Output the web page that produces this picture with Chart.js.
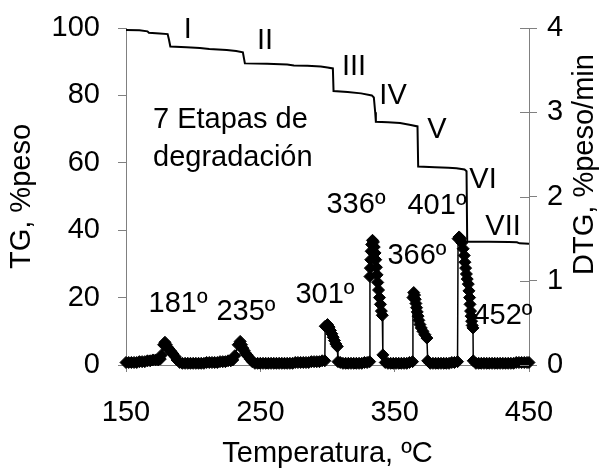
<!DOCTYPE html>
<html>
<head>
<meta charset="utf-8">
<script src="https://cdn.jsdelivr.net/npm/chart.js@4/dist/chart.umd.min.js"></script>
<style>
  body { margin: 0; background: #fff; }
</style>
</head>
<body>
<canvas id="grafico" width="606" height="472"></canvas>
<script>
// Curva TG (%peso) frente a temperatura
const tgTemp = [150, 160, 166, 167, 175, 181, 182, 183, 195, 205, 212, 225, 232, 237, 238.5,
  255, 270, 275, 285, 295, 300, 304, 304.5, 315, 325, 333, 334.5, 335.5, 336, 345, 354, 362,
  367, 367.5, 380, 390, 396, 402, 403.5, 404, 420, 435, 441, 443, 450];
const tgValor = [99.4, 99.3, 99.0, 98.6, 98.4, 98.2, 96.5, 94.5, 94.3, 94.1, 93.8, 93.5, 93.2, 92.8, 89.5,
  89.4, 89.2, 88.9, 88.8, 88.6, 88.3, 88.0, 81.3, 81.0, 80.6, 80.0, 79.4, 75.0, 72.2, 72.0, 71.8, 71.2,
  70.8, 58.9, 58.7, 58.5, 58.4, 58.0, 57.5, 36.6, 36.6, 36.5, 36.4, 36.1, 36.0];

// Curva DTG (%peso/min)
const dtgTemp = [
  150, 152, 154, 156, 158, 160, 162, 164, 166, 168, 170, 172, 174, 175.5,
  176.5, 178, 179, 180, 181, 182, 183, 184, 185, 186.5, 188, 190,
  192, 194, 196, 198, 200, 202, 204, 206, 208, 210, 212, 214, 216, 218, 220, 222, 224, 226, 228, 229.5,
  231, 233.5, 235, 236, 237, 238, 239, 240, 241, 242.5, 244, 246,
  248, 250, 252, 254, 256, 258, 260, 262, 264, 266, 268, 270, 272, 274, 276, 278, 280, 282, 284, 286, 288, 290, 292, 294, 296, 298,
  298.3, 300, 301.2, 302.2, 303.2, 304.2, 305.2, 306.2, 307.3, 307.8,
  309.5, 311.5, 313.5, 315.5, 317.5, 319.5, 321.5, 323.5, 325.5, 327.5, 329.5, 331.4,
  331.6, 331.9, 332.2, 332.5, 332.9, 333.5, 334.2, 334.8, 335.4, 335.9, 336.4, 336.9, 337.4, 338, 338.7, 339.4, 340.1, 340.8, 341.2,
  343, 345, 347, 349, 351, 353, 355, 357, 359, 361, 363.3,
  363.6, 364.2, 364.8, 365.3, 365.8, 366.3, 366.8, 367.4, 368, 368.8, 369.8, 371, 372.5, 374, 374.6,
  376.5, 378.5, 380.5, 382.5, 384.5, 386.5, 388.5, 390.5, 392.5, 394.5, 396.8,
  397.2, 398, 399, 400, 401, 401.8, 402.3, 402.8, 403.4, 404, 404.8, 405.3, 405.8, 406.1, 406.5, 406.9, 407.3, 407.7, 408.3, 408.5,
  410.5, 412.5, 414.5, 416.5, 418.5, 420.5, 422.5, 424.5, 426.5, 428.5, 430.5, 432.5, 434.5, 436.5, 438.5, 440.5, 442.5, 444.5, 446.5, 448.5, 450];
const dtgValor = [
  0.03, 0.03, 0.03, 0.03, 0.03, 0.04, 0.04, 0.04, 0.05, 0.05, 0.06, 0.06, 0.06, 0.07,
  0.12, 0.24, 0.27, 0.24, 0.21, 0.19, 0.17, 0.15, 0.13, 0.10, 0.06, 0.03,
  0.02, 0.02, 0.02, 0.02, 0.02, 0.02, 0.02, 0.02, 0.02, 0.03, 0.03, 0.03, 0.03, 0.03, 0.04, 0.04, 0.04, 0.05, 0.05, 0.06,
  0.11, 0.24, 0.28, 0.24, 0.20, 0.17, 0.14, 0.12, 0.10, 0.07, 0.04, 0.02,
  0.02, 0.02, 0.02, 0.02, 0.02, 0.02, 0.02, 0.02, 0.02, 0.02, 0.02, 0.02, 0.02, 0.02, 0.03, 0.03, 0.03, 0.03, 0.03, 0.03, 0.04, 0.04, 0.04, 0.04, 0.05, 0.05,
  0.46, 0.48, 0.45, 0.41, 0.37, 0.33, 0.29, 0.25, 0.22, 0.04,
  0.03, 0.02, 0.02, 0.02, 0.02, 0.02, 0.02, 0.02, 0.02, 0.03, 0.03, 0.04,
  1.05, 1.15, 1.25, 1.35, 1.43, 1.48, 1.46, 1.40, 1.33, 1.25, 1.16, 1.07, 0.98, 0.89, 0.80, 0.72, 0.64, 0.59, 0.12,
  0.03, 0.02, 0.02, 0.02, 0.02, 0.02, 0.02, 0.02, 0.02, 0.03, 0.04,
  0.80, 0.86, 0.83, 0.78, 0.73, 0.68, 0.63, 0.58, 0.53, 0.48, 0.44, 0.40, 0.36, 0.32, 0.05,
  0.02, 0.02, 0.02, 0.02, 0.02, 0.02, 0.02, 0.02, 0.03, 0.03, 0.04,
  1.50, 1.52, 1.50, 1.45, 1.38, 1.30, 1.22, 1.15, 1.08, 1.02, 0.96, 0.88, 0.80, 0.72, 0.64, 0.58, 0.52, 0.47, 0.44, 0.05,
  0.02, 0.02, 0.02, 0.02, 0.02, 0.02, 0.02, 0.02, 0.02, 0.02, 0.02, 0.02, 0.02, 0.02, 0.02, 0.03, 0.03, 0.03, 0.03, 0.03, 0.03];

// Textos del gráfico
const etapas = ['I', 'II', 'III', 'IV', 'V', 'VI', 'VII'];
const picos = ['181º', '235º', '301º', '336º', '366º', '401º', '452º'];
const nota = ['7 Etapas de', 'degradación'];

// Posición de los textos (en unidades de los ejes: temperatura, %peso)
const posEtapas = [[196, 99.4], [253.5, 96.1], [319.7, 88.4], [348.8, 79.8], [381.5, 69.7], [415.8, 54.9], [430.7, 40.9]];
const posPicos = [[188.7, 18.1], [239.3, 15.6], [298.1, 20.8], [321.2, 47.5], [366.6, 32.3], [381.5, 47.2], [430.6, 14.5]];
const posNota = [[170.1, 72.7], [170.1, 61.4]];

const fuente = "'Liberation Sans', Arial, sans-serif";
const tam = 29;
const gris = '#808080';

Chart.defaults.font.family = fuente;
Chart.defaults.font.size = tam;
Chart.defaults.color = '#000';

const textos = {
  id: 'textos',
  afterDatasetsDraw(chart) {
    const ctx = chart.ctx;
    const x = chart.scales.x, y = chart.scales.y, y2 = chart.scales.y2;
    ctx.save();
    ctx.fillStyle = '#000';
    ctx.font = tam + 'px ' + fuente;
    ctx.textBaseline = 'middle';
    ctx.textAlign = 'center';
    etapas.forEach((t, i) => ctx.fillText(t, x.getPixelForValue(posEtapas[i][0]), y.getPixelForValue(posEtapas[i][1])));
    picos.forEach((t, i) => ctx.fillText(t, x.getPixelForValue(posPicos[i][0]), y.getPixelForValue(posPicos[i][1])));
    ctx.textAlign = 'left';
    nota.forEach((t, i) => ctx.fillText(t, x.getPixelForValue(posNota[i][0]), y.getPixelForValue(posNota[i][1])));

    // marcas del eje secundario hacia dentro
    ctx.strokeStyle = gris;
    ctx.lineWidth = 1;
    y2.ticks.forEach(t => {
      const py = Math.round(y2.getPixelForValue(t.value)) + 0.5;
      ctx.beginPath();
      ctx.moveTo(y2.left - 9, py);
      ctx.lineTo(y2.left, py);
      ctx.stroke();
    });

    // título del eje secundario, girado como en el original
    ctx.translate(585, (chart.chartArea.top + chart.chartArea.bottom) / 2 - 32);
    ctx.rotate(-Math.PI / 2);
    ctx.textAlign = 'center';
    ctx.fillText('DTG, %peso/min', 0, 0);
    ctx.restore();
  }
};

const sinMargen = s => { s.paddingTop = 0; s.paddingBottom = 0; };

new Chart(document.getElementById('grafico'), {
  type: 'scatter',
  data: {
    datasets: [{
      label: 'TG',
      data: tgTemp.map((t, i) => ({ x: t, y: tgValor[i] })),
      yAxisID: 'y',
      showLine: true,
      borderColor: '#000',
      borderWidth: 2,
      pointRadius: 0
    }, {
      label: 'DTG',
      data: dtgTemp.map((t, i) => ({ x: t, y: dtgValor[i] })),
      yAxisID: 'y2',
      showLine: true,
      borderColor: '#000',
      borderWidth: 1.5,
      pointStyle: 'rectRot',
      pointRadius: 6,
      pointBackgroundColor: '#000',
      pointBorderColor: '#000',
      pointBorderWidth: 1,
      clip: false
    }]
  },
  options: {
    responsive: false,
    animation: false,
    layout: { padding: { top: 28, left: 0, right: 0, bottom: 0 } },
    plugins: { legend: { display: false }, tooltip: { enabled: false } },
    scales: {
      x: {
        type: 'linear',
        min: 150, max: 450,
        ticks: { stepSize: 100, padding: 24, maxRotation: 0 },
        grid: { drawOnChartArea: false, tickLength: 7, color: gris },
        border: { color: gris },
        title: { display: true, text: 'Temperatura, ºC', padding: { top: 0, bottom: 1 } },
        afterFit(s) { s.height = 107; }
      },
      y: {
        position: 'left',
        min: 0, max: 100,
        ticks: { stepSize: 20, padding: 18 },
        grid: { drawOnChartArea: false, tickLength: 8, color: gris },
        border: { color: gris },
        title: { display: true, text: 'TG, %peso', padding: { top: 5, bottom: 0 } },
        afterFit(s) { s.width = 126; sinMargen(s); }
      },
      y2: {
        position: 'right',
        min: 0, max: 4,
        ticks: { stepSize: 1, padding: 10 },
        grid: { drawOnChartArea: false, tickLength: 8, color: gris },
        border: { color: gris },
        afterFit(s) { s.width = 77; sinMargen(s); }
      }
    }
  },
  plugins: [textos]
});
</script>
</body>
</html>
